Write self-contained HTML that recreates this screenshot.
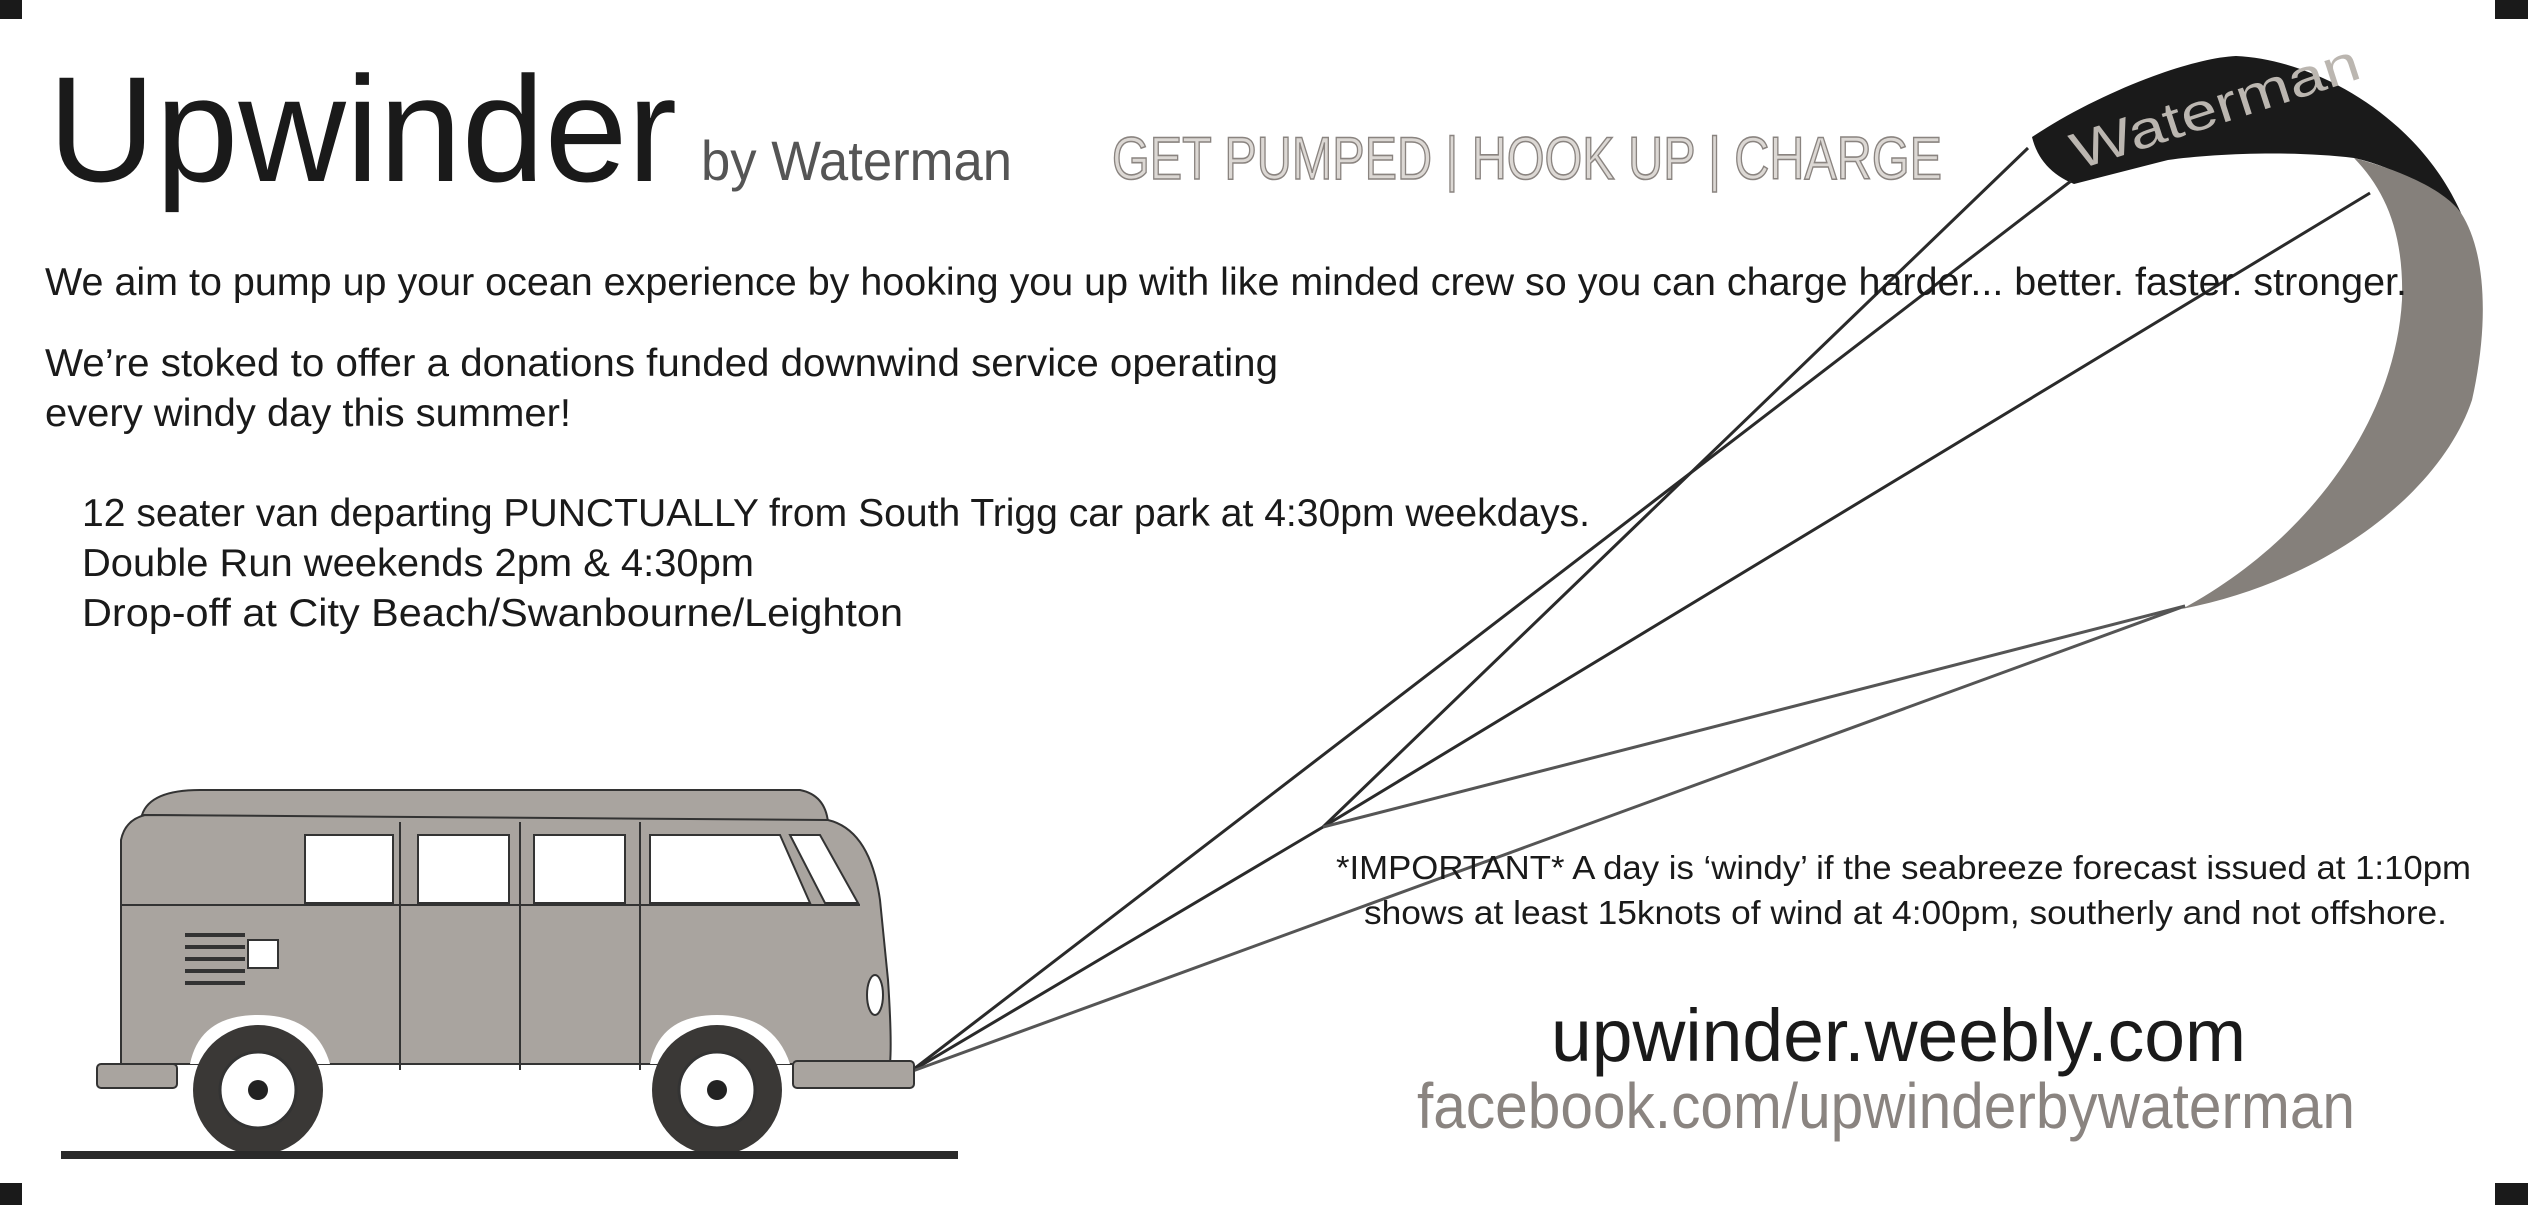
<!DOCTYPE html>
<html><head><meta charset="utf-8"><style>html,body{margin:0;padding:0;background:#fff}svg{display:block}</style></head>
<body>
<svg width="2528" height="1205" viewBox="0 0 2528 1205" xmlns="http://www.w3.org/2000/svg" font-family="Liberation Sans, sans-serif">
<rect width="2528" height="1205" fill="#fff"/>
<rect x="0" y="0" width="22" height="19" fill="#1a1a1a"/>
<rect x="2495" y="0" width="33" height="19" fill="#1a1a1a"/>
<rect x="0" y="1183" width="22" height="22" fill="#1a1a1a"/>
<rect x="2495" y="1183" width="33" height="22" fill="#1a1a1a"/>

<!-- kite -->
<path d="M2032,137 C2100,92 2190,58 2236,56 C2320,60 2420,120 2461,213 L2440,205 C2420,182 2390,166 2354,158 C2290,150 2210,154 2168,160 L2074,184 Q2040,170 2032,137 Z" fill="#1a1a1a"/>
<path d="M2354,158 C2400,170 2445,190 2461,213 C2485,250 2490,320 2472,400 C2442,490 2330,580 2182,609 C2310,540 2395,420 2402,300 C2404,232 2385,190 2354,158 Z" fill="#85807b"/>
<text x="2078" y="170" font-size="52" fill="#bbb6b0" transform="rotate(-18 2078 170)" textLength="300" lengthAdjust="spacingAndGlyphs">Waterman</text>

<!-- lines -->
<g stroke="#2a2a2a" stroke-width="3" fill="none">
<line x1="910" y1="1072" x2="2071" y2="181"/>
<line x1="910" y1="1072" x2="1323" y2="827"/>
<line x1="1323" y1="827" x2="2028" y2="148"/>
<line x1="1323" y1="827" x2="2370" y2="193"/>
<line x1="1323" y1="827" x2="2185" y2="606" stroke="#555"/>
<line x1="910" y1="1072" x2="2185" y2="606" stroke="#555"/>
</g>

<text x="48" y="181" font-size="150" fill="#1a1a1a" textLength="629" lengthAdjust="spacingAndGlyphs">Upwinder</text>
<text x="701" y="180" font-size="56" fill="#555" textLength="311" lengthAdjust="spacingAndGlyphs">by Waterman</text>
<text x="1112" y="179" font-size="60" fill="#dcd8d4" stroke="#8a8480" stroke-width="1.6" textLength="830" lengthAdjust="spacingAndGlyphs">GET PUMPED | HOOK UP | CHARGE</text>

<g font-size="39" fill="#1a1a1a">
<text x="45" y="295" textLength="2362" lengthAdjust="spacingAndGlyphs">We aim to pump up your ocean experience by hooking you up with like minded crew so you can charge harder... better. faster. stronger.</text>
<text x="45" y="376" textLength="1233" lengthAdjust="spacingAndGlyphs">We’re stoked to offer a donations funded downwind service operating</text>
<text x="45" y="426" textLength="526" lengthAdjust="spacingAndGlyphs">every windy day this summer!</text>
<text x="82" y="526" textLength="1508" lengthAdjust="spacingAndGlyphs">12 seater van departing PUNCTUALLY from South Trigg car park at 4:30pm weekdays.</text>
<text x="82" y="576" textLength="672" lengthAdjust="spacingAndGlyphs">Double Run weekends 2pm &amp; 4:30pm</text>
<text x="82" y="626" textLength="821" lengthAdjust="spacingAndGlyphs">Drop-off at City Beach/Swanbourne/Leighton</text>
</g>
<g font-size="33" fill="#1a1a1a">
<text x="1336" y="879" textLength="1135" lengthAdjust="spacingAndGlyphs">*IMPORTANT* A day is ‘windy’ if the seabreeze forecast issued at 1:10pm</text>
<text x="1364" y="924" textLength="1083" lengthAdjust="spacingAndGlyphs">shows at least 15knots of wind at 4:00pm, southerly and not offshore.</text>
</g>
<text x="1551" y="1061" font-size="74" fill="#1a1a1a" textLength="695" lengthAdjust="spacingAndGlyphs">upwinder.weebly.com</text>
<text x="1417" y="1128" font-size="64" fill="#8a8480" textLength="938" lengthAdjust="spacingAndGlyphs">facebook.com/upwinderbywaterman</text>

<!-- van -->
<g stroke="#333" stroke-width="2">
<path d="M142,815 Q150,790 200,790 L800,790 Q825,795 828,822 Z" fill="#a9a49f"/>
<path d="M121,840 Q125,820 145,815 L828,820 Q870,830 880,900 L888,980 Q892,1040 890,1064 L121,1064 Z" fill="#a9a49f"/>
<rect x="97" y="1064" width="80" height="24" rx="4" fill="#a9a49f"/>
<rect x="793" y="1061" width="121" height="27" rx="4" fill="#a9a49f"/>
<rect x="305" y="835" width="88" height="68" fill="#fff"/>
<rect x="418" y="835" width="91" height="68" fill="#fff"/>
<rect x="534" y="835" width="91" height="68" fill="#fff"/>
<path d="M650,835 L780,835 L810,903 L650,903 Z" fill="#fff"/>
<path d="M790,835 L820,835 L858,903 L825,903 Z" fill="#fff"/>
<line x1="121" y1="905" x2="860" y2="905"/>
<line x1="400" y1="822" x2="400" y2="1070"/>
<line x1="520" y1="822" x2="520" y2="1070"/>
<line x1="640" y1="822" x2="640" y2="1070"/>
<rect x="248" y="940" width="30" height="28" fill="#fff"/>
</g>
<g stroke="#333" stroke-width="4">
<line x1="185" y1="935" x2="245" y2="935"/><line x1="185" y1="947" x2="245" y2="947"/>
<line x1="185" y1="959" x2="245" y2="959"/><line x1="185" y1="971" x2="245" y2="971"/>
<line x1="185" y1="983" x2="245" y2="983"/>
</g>
<ellipse cx="875" cy="995" rx="8" ry="20" fill="#fff" stroke="#333" stroke-width="2"/>
<path d="M190,1064 Q200,1015 258,1015 Q316,1015 330,1064 Z" fill="#fff"/>
<path d="M650,1064 Q660,1015 717,1015 Q774,1015 790,1064 Z" fill="#fff"/>
<circle cx="258" cy="1090" r="65" fill="#3a3836"/>
<circle cx="258" cy="1090" r="38" fill="#fff" stroke="#333" stroke-width="3"/>
<circle cx="258" cy="1090" r="10" fill="#222"/>
<circle cx="717" cy="1090" r="65" fill="#3a3836"/>
<circle cx="717" cy="1090" r="38" fill="#fff" stroke="#333" stroke-width="3"/>
<circle cx="717" cy="1090" r="10" fill="#222"/>
<rect x="61" y="1151" width="897" height="8" fill="#2a2a2a"/>
</svg>
</body></html>
